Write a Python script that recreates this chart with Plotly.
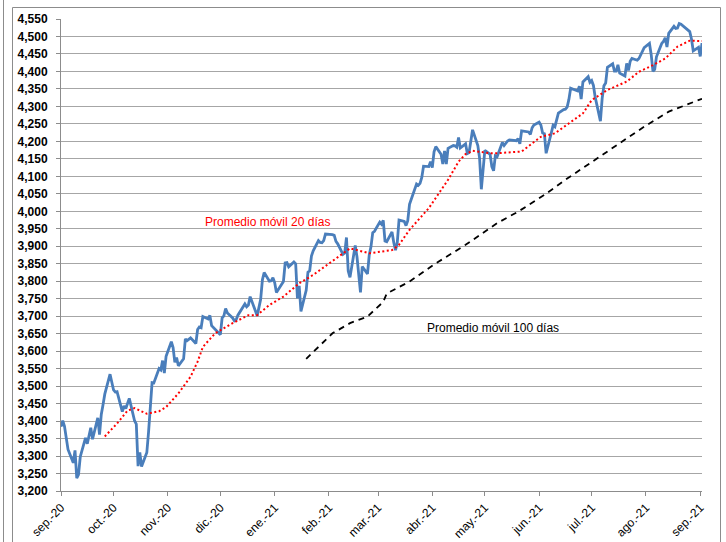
import plotly.graph_objects as go

# S&P 500 daily close, sep-2020 .. sep-2021
trade_days = """
2020-09-14 2020-09-15 2020-09-16 2020-09-17 2020-09-18 2020-09-21 2020-09-22 2020-09-23 2020-09-24 2020-09-25
2020-09-28 2020-09-29 2020-09-30 2020-10-01 2020-10-02 2020-10-05 2020-10-06 2020-10-07 2020-10-08 2020-10-09
2020-10-12 2020-10-13 2020-10-14 2020-10-15 2020-10-16 2020-10-19 2020-10-20 2020-10-21 2020-10-22 2020-10-23
2020-10-26 2020-10-27 2020-10-28 2020-10-29 2020-10-30 2020-11-02 2020-11-03 2020-11-04 2020-11-05 2020-11-06
2020-11-09 2020-11-10 2020-11-11 2020-11-12 2020-11-13 2020-11-16 2020-11-17 2020-11-18 2020-11-19 2020-11-20
2020-11-23 2020-11-24 2020-11-25 2020-11-27 2020-11-30 2020-12-01 2020-12-02 2020-12-03 2020-12-04 2020-12-07
2020-12-08 2020-12-09 2020-12-10 2020-12-11 2020-12-14 2020-12-15 2020-12-16 2020-12-17 2020-12-18 2020-12-21
2020-12-22 2020-12-23 2020-12-24 2020-12-28 2020-12-29 2020-12-30 2020-12-31 2021-01-04 2021-01-05 2021-01-06
2021-01-07 2021-01-08 2021-01-11 2021-01-12 2021-01-13 2021-01-14 2021-01-15 2021-01-19 2021-01-20 2021-01-21
2021-01-22 2021-01-25 2021-01-26 2021-01-27 2021-01-28 2021-01-29 2021-02-01 2021-02-02 2021-02-03 2021-02-04
2021-02-05 2021-02-08 2021-02-09 2021-02-10 2021-02-11 2021-02-12 2021-02-16 2021-02-17 2021-02-18 2021-02-19
2021-02-22 2021-02-23 2021-02-24 2021-02-25 2021-02-26 2021-03-01 2021-03-02 2021-03-03 2021-03-04 2021-03-05
2021-03-08 2021-03-09 2021-03-10 2021-03-11 2021-03-12 2021-03-15 2021-03-16 2021-03-17 2021-03-18 2021-03-19
2021-03-22 2021-03-23 2021-03-24 2021-03-25 2021-03-26 2021-03-29 2021-03-30 2021-03-31 2021-04-01 2021-04-05
2021-04-06 2021-04-07 2021-04-08 2021-04-09 2021-04-12 2021-04-13 2021-04-14 2021-04-15 2021-04-16 2021-04-19
2021-04-20 2021-04-21 2021-04-22 2021-04-23 2021-04-26 2021-04-27 2021-04-28 2021-04-29 2021-04-30 2021-05-03
2021-05-04 2021-05-05 2021-05-06 2021-05-07 2021-05-10 2021-05-11 2021-05-12 2021-05-13 2021-05-14 2021-05-17
2021-05-18 2021-05-19 2021-05-20 2021-05-21 2021-05-24 2021-05-25 2021-05-26 2021-05-27 2021-05-28 2021-06-01
2021-06-02 2021-06-03 2021-06-04 2021-06-07 2021-06-08 2021-06-09 2021-06-10 2021-06-11 2021-06-14 2021-06-15
2021-06-16 2021-06-17 2021-06-18 2021-06-21 2021-06-22 2021-06-23 2021-06-24 2021-06-25 2021-06-28 2021-06-29
2021-06-30 2021-07-01 2021-07-02 2021-07-06 2021-07-07 2021-07-08 2021-07-09 2021-07-12 2021-07-13 2021-07-14
2021-07-15 2021-07-16 2021-07-19 2021-07-20 2021-07-21 2021-07-22 2021-07-23 2021-07-26 2021-07-27 2021-07-28
2021-07-29 2021-07-30 2021-08-02 2021-08-03 2021-08-04 2021-08-05 2021-08-06 2021-08-09 2021-08-10 2021-08-11
2021-08-12 2021-08-13 2021-08-16 2021-08-17 2021-08-18 2021-08-19 2021-08-20 2021-08-23 2021-08-24 2021-08-25
2021-08-26 2021-08-27 2021-08-30 2021-08-31 2021-09-01 2021-09-02 2021-09-03 2021-09-07 2021-09-08 2021-09-09
2021-09-10 2021-09-13 2021-09-14 2021-09-15
""".split()

sp500 = [
    3384, 3401, 3385, 3357, 3319, 3281, 3316, 3237, 3247, 3298,
    3352, 3335, 3363, 3381, 3348, 3409, 3361, 3419, 3447, 3477,
    3534, 3512, 3489, 3483, 3484, 3427, 3443, 3436, 3453, 3465,
    3401, 3391, 3271, 3310, 3270, 3310, 3369, 3443, 3510, 3509,
    3550, 3546, 3573, 3537, 3585, 3627, 3610, 3568, 3582, 3558,
    3578, 3635, 3630, 3638, 3622, 3662, 3669, 3667, 3699, 3692,
    3702, 3673, 3668, 3663, 3647, 3695, 3701, 3722, 3709, 3695,
    3687, 3690, 3703, 3735, 3727, 3732, 3756, 3701, 3727, 3748,
    3804, 3825, 3800, 3801, 3810, 3796, 3768, 3799, 3852, 3853,
    3841, 3855, 3850, 3751, 3787, 3714, 3774, 3826, 3830, 3872,
    3887, 3916, 3911, 3910, 3916, 3935, 3933, 3931, 3914, 3907,
    3877, 3881, 3925, 3829, 3811, 3902, 3870, 3820, 3768, 3842,
    3821, 3875, 3899, 3939, 3943, 3969, 3963, 3974, 3915, 3913,
    3941, 3911, 3889, 3910, 3975, 3971, 3959, 3973, 4020, 4078,
    4074, 4080, 4097, 4129, 4128, 4142, 4125, 4170, 4185, 4163,
    4135, 4173, 4135, 4180, 4188, 4187, 4183, 4211, 4181, 4193,
    4165, 4168, 4202, 4233, 4188, 4152, 4063, 4113, 4174, 4163,
    4128, 4116, 4159, 4156, 4197, 4188, 4196, 4201, 4204, 4202,
    4208, 4193, 4230, 4227, 4227, 4220, 4239, 4247, 4255, 4247,
    4224, 4222, 4166, 4225, 4246, 4242, 4266, 4281, 4291, 4292,
    4298, 4320, 4352, 4344, 4358, 4321, 4370, 4385, 4369, 4374,
    4360, 4327, 4258, 4323, 4359, 4367, 4412, 4422, 4401, 4401,
    4419, 4395, 4387, 4423, 4403, 4429, 4437, 4432, 4437, 4448,
    4461, 4468, 4480, 4448, 4400, 4406, 4442, 4480, 4486, 4496,
    4470, 4509, 4529, 4523, 4524, 4537, 4535, 4520, 4514, 4493,
    4459, 4469, 4443, 4481,
]

# Promedio móvil 20 días
ma20_days = [
    "2020-10-09", "2020-10-16", "2020-10-22", "2020-10-26", "2020-11-02", "2020-11-09",
    "2020-11-13", "2020-11-20", "2020-11-27", "2020-12-01", "2020-12-04", "2020-12-11",
    "2020-12-21", "2020-12-30", "2021-01-04", "2021-01-11", "2021-01-19", "2021-01-28",
    "2021-02-05", "2021-02-18", "2021-02-26", "2021-03-09", "2021-03-22", "2021-03-26",
    "2021-04-01", "2021-04-12", "2021-04-20", "2021-04-23", "2021-04-29", "2021-05-03",
    "2021-05-07", "2021-05-17", "2021-05-21", "2021-06-04", "2021-06-10", "2021-06-15",
    "2021-06-23", "2021-07-01", "2021-07-09", "2021-07-14", "2021-07-23", "2021-08-03",
    "2021-08-10", "2021-08-18", "2021-08-25", "2021-09-01", "2021-09-08", "2021-09-15",
]
ma20 = [
    3356, 3393, 3430, 3437, 3421, 3428,
    3440, 3479, 3527, 3570, 3612, 3651,
    3680, 3703, 3703, 3732, 3756, 3794,
    3818, 3866, 3894, 3880, 3889, 3904,
    3947, 4009, 4070, 4090, 4142, 4164,
    4173, 4166, 4166, 4171, 4194, 4213,
    4223, 4251, 4280, 4318, 4347, 4371,
    4399, 4418, 4437, 4471, 4488, 4487,
]

# Promedio móvil 100 días
ma100_days = [
    "2021-02-01", "2021-02-16", "2021-02-26", "2021-03-08", "2021-03-17", "2021-03-19",
    "2021-04-01", "2021-04-16", "2021-05-03", "2021-05-21", "2021-06-02", "2021-06-17",
    "2021-06-29", "2021-07-16", "2021-07-30", "2021-08-13", "2021-08-27", "2021-09-15",
]
ma100 = [
    3578, 3651, 3680, 3699, 3741, 3765,
    3799, 3851, 3904, 3966, 3999, 4047,
    4090, 4147, 4194, 4242, 4285, 4322,
]

tick_days = ["2020-09-14", "2020-10-14", "2020-11-14", "2020-12-14", "2021-01-14",
             "2021-02-14", "2021-03-14", "2021-04-14", "2021-05-14", "2021-06-14",
             "2021-07-14", "2021-08-14", "2021-09-14"]
tick_text = ["sep.-20", "oct.-20", "nov.-20", "dic.-20", "ene.-21", "feb.-21", "mar.-21",
             "abr.-21", "may.-21", "jun.-21", "jul.-21", "ago.-21", "sep.-21"]

W, H = 726, 542
L, R, T, B = 61, 702, 19, 491
FONT = "Liberation Sans, Arial, sans-serif"


def px(x):
    return (x - L) / (R - L)


def py(y):
    return (B - y) / (B - T)


fig = go.Figure()
fig.add_trace(go.Scatter(x=trade_days, y=sp500, mode="lines",
                         line=dict(color="#4a7ebb", width=2.8)))
fig.add_trace(go.Scatter(x=ma20_days, y=ma20, mode="lines",
                         line=dict(color="#ff0000", width=2, dash="2px,2.5px")))
fig.add_trace(go.Scatter(x=ma100_days, y=ma100, mode="lines",
                         line=dict(color="#000000", width=1.8, dash="6px,5px")))

fig.update_layout(
    width=W, height=H,
    margin=dict(l=L, r=W - R, t=T, b=H - B),
    paper_bgcolor="white", plot_bgcolor="white",
    showlegend=False,
    font=dict(family=FONT, color="#000000"),
    annotations=[
        dict(text="Promedio móvil 20 días", x=px(203), y=py(222), xref="paper", yref="paper",
             xanchor="left", yanchor="middle", showarrow=False,
             font=dict(family=FONT, size=12, color="#ff0000")),
        dict(text="Promedio móvil 100 días", x=px(425), y=py(328), xref="paper", yref="paper",
             xanchor="left", yanchor="middle", showarrow=False,
             font=dict(family=FONT, size=12, color="#000000")),
    ],
    shapes=[
        dict(type="rect", xref="paper", yref="paper", x0=px(12.5), x1=px(720.5),
             y0=py(560), y1=py(7.5), line=dict(color="#8c8c8c", width=1)),
        dict(type="line", xref="paper", yref="paper", x0=px(3.5), x1=px(3.5),
             y0=py(560), y1=py(-5), line=dict(color="#8c8c8c", width=1)),
    ],
)

fig.update_xaxes(
    type="date", range=["2020-09-14", "2021-09-15"],
    tickvals=tick_days, ticktext=tick_text, tickangle=-45,
    showgrid=False, showline=True, linecolor="#8c8c8c", linewidth=1,
    ticks="outside", ticklen=4, tickcolor="#8c8c8c",
    tickfont=dict(family=FONT, size=12, color="#000000"),
    automargin=False,
)
fig.update_yaxes(
    range=[3200, 4550], dtick=50, tick0=3200, tickformat=",",
    showgrid=True, gridcolor="#a6a6a6", gridwidth=1,
    showline=True, linecolor="#8c8c8c", linewidth=1,
    ticks="outside", ticklen=4, tickcolor="#8c8c8c",
    tickfont=dict(family=FONT, size=12, color="#000000", weight="bold"),
    ticklabelstandoff=6,
    automargin=False, zeroline=False,
)

# page body margin would shift the figure by 8px
fig.write_html("out.html", config={"displayModeBar": False},
               post_script="document.body.style.margin='0';")
